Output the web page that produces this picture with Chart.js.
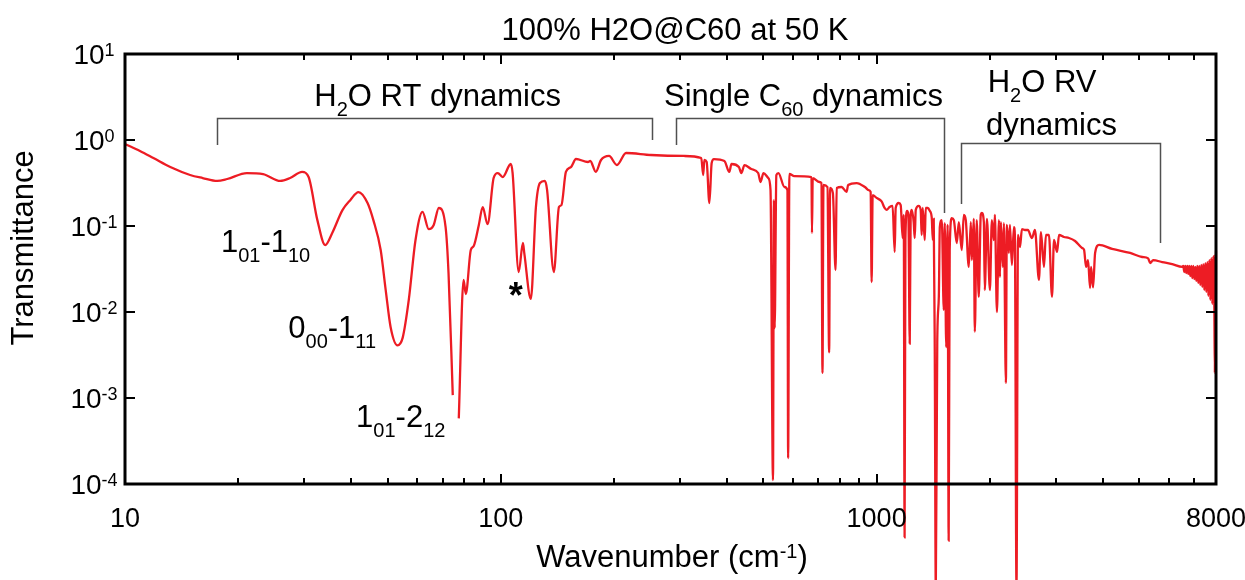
<!DOCTYPE html>
<html>
<head>
<meta charset="utf-8">
<script src="https://cdn.jsdelivr.net/npm/chart.js@4.4.1/dist/chart.umd.min.js"></script>
<style>
  html, body { margin: 0; padding: 0; background: #fff; }
  #wrap { width: 1245px; height: 580px; position: relative; }
</style>
</head>
<body>
<div id="wrap"><canvas id="c" width="1245" height="580"></canvas></div>
<script>
// Far-IR to near-IR transmittance spectrum of 100% H2O@C60 at 50 K
const wavenumber = [
  10, 10.96, 11.9, 13.2, 14.9, 16.1, 17.6, 18.7, 21.1, 23.3, 25.9, 27.5, 29.6, 30.8,
  32.5, 34.1, 35.6, 37.9, 39.8, 41.8, 44.2, 45.8, 47.9, 49.4, 50.9, 53.1, 54.8, 56.9,
  59.3, 61.9, 64.3, 66.3, 68.4, 71.3, 72.6, 74.5, 76, 77.3, 79.6, 80.7, 83.2, 84.7,
  87.4, 89.5, 92.2, 95.7, 98.2, 101.2, 106.3, 107.5, 111.6, 114.5, 115.5, 120.2, 124,
  127.1, 131, 132.8, 138.4, 142.8, 145, 149, 153.7, 158.5, 170.6, 173, 179, 184.8,
  194.1, 203.7, 215.4, 251, 307.6, 341.5, 345.6, 348, 353, 358.9, 364, 369, 393.5,
  405.5, 411, 430, 436.5, 445, 464, 484, 491, 500, 515, 522, 530, 532.9, 535.5, 541,
  548, 568.5, 579, 581.5, 586, 604, 671, 673, 676, 704.7, 713, 717.8, 722, 740, 747.6,
  752, 765, 777.5, 783, 806.6, 832, 840, 885, 931, 952, 964, 970, 976, 1000, 1031,
  1050, 1063, 1083, 1103, 1117, 1124, 1145, 1159, 1173, 1181, 1187, 1193, 1205, 1215,
  1225, 1232, 1240, 1255, 1263, 1271, 1294, 1310, 1318, 1326, 1343, 1351, 1368, 1385,
  1402, 1411, 1419, 1428, 1437, 1450, 1464, 1473, 1491, 1509, 1518, 1532, 1545, 1555,
  1565, 1585, 1605, 1634, 1655, 1685, 1706, 1727, 1759, 1781, 1792, 1814, 1825, 1847,
  1870, 1893, 1905, 1929, 1940, 1966, 2002, 2026, 2051, 2064, 2090, 2116, 2129, 2141,
  2167, 2181, 2208, 2221, 2249, 2263, 2291, 2319, 2333, 2356, 2378, 2407, 2436, 2481,
  2527, 2590, 2638, 2704, 2737, 2788, 2822, 2875, 2929, 2965, 3021, 3058, 3152, 3250,
  3373, 3521, 3565, 3609, 3653, 3698, 3721, 3767, 3814, 3909, 4233, 4727, 5089, 5279,
  5344, 5445, 5754, 6119, 6506, 6546, 6587, 6627, 6668, 6709, 6750, 6792, 6834, 6876,
  6918, 6961, 7004, 7047, 7090, 7134, 7178, 7222, 7267, 7311, 7356, 7401, 7447, 7493,
  7539, 7586, 7633, 7680, 7727, 7774, 7822, 7870, 7919, 7944, 7968, 7993, 8000
];
const transmittance = [
  0.90, 0.745, 0.617, 0.485, 0.392, 0.361, 0.334, 0.352, 0.413, 0.402, 0.334, 0.361, 0.425, 0.371,
  0.117, 0.060, 0.083, 0.153, 0.201, 0.248, 0.185, 0.117, 0.0526, 0.018, 0.0067, 0.0041, 0.0050, 0.0138,
  0.0687, 0.146, 0.092, 0.103, 0.162, 0.097, 0.028, 0.00108, null, 0.00058, 0.0236, 0.0162, 0.0526, 0.0585,
  0.103, 0.166, 0.105, 0.361, 0.413, 0.371, 0.526, 0.413, 0.0292, 0.0634, 0.048, 0.0142, 0.166,
  0.316, 0.334, 0.262, 0.0292, 0.166, 0.175, 0.425, 0.485, 0.601, 0.555, 0.57, 0.425, 0.585,
  0.652, 0.512, 0.706, 0.669, 0.652, 0.617, 0.392, 0.585, 0.555, 0.185, 0.54, 0.60, 0.570,
  0.425, 0.526, 0.485, 0.413, 0.51, 0.46, 0.413, 0.325, 0.413, 0.361, 0.262, 0.000111, 0.2, 0.0065, 0.39,
  0.413, 0.284, 0.262, 0.0002, 0.403, 0.381, 0.371, 0.083, 0.361, 0.325, 0.316, 0.00196, 0.30, 0.284, 0.0034,
  0.277, 0.241, 0.0308, 0.277, 0.284, 0.249, 0.30, 0.316, 0.284, 0.262, 0.249, 0.0223, 0.229, 0.212, 0.193,
  0.162, 0.154, 0.166, 0.171, 0.050, 0.162, 0.185, 0.175, 0.0724, 0.135, 0.000024, 0.0687, 0.15, 0.135,
  0.0043, 0.135, 0.154, 0.111, 0.0724, 0.154, 0.171, 0.154, 0.0786, 0.162, 0.0687, 0.162, 0.162, 0.150,
  0.124, 0.0687, 0.121, 0.00362, 0.000006, 0.0045, 0.0150, 0.097, 0.117, 0.01055, 0.108, 0.0039, 0.103, 0.000022,
  0.0526, 0.123, 0.117, 0.0634, 0.111, 0.0526, 0.135, 0.117, 0.0334, 0.111, 0.0402, 0.121, 0.0059, 0.117,
  0.0150, 0.135, 0.142, 0.111, 0.018, 0.121, 0.018, 0.117, 0.0687, 0.135, 0.0100, 0.117, 0.0255, 0.111,
  0.0334, 0.108, 0.0015, 0.103, 0.0485, 0.103, 0.0352, 0.097, 0.0786, 0.000006, 0.0786, 0.057, 0.092, 0.0898,
  0.0898, 0.0725, 0.0898, 0.0236, 0.085, 0.0334, 0.0786, 0.0786, 0.0150, 0.0687, 0.050, 0.0786, 0.0745, 0.0725,
  0.0669, 0.0555, 0.0526, 0.0334, 0.0402, 0.019, 0.0334, 0.0193, 0.0486, 0.0603, 0.0541, 0.0486, 0.0436, 0.042,
  0.0371, 0.0402, 0.038, 0.036, 0.0334, 0.0343, 0.0292, 0.0343, 0.0284, 0.0343, 0.0277, 0.0343, 0.0262, 0.0343,
  0.0248, 0.0343, 0.0242, 0.0334, 0.0230, 0.0343, 0.0218, 0.0343, 0.0206, 0.0352, 0.0195, 0.0361, 0.018, 0.0371,
  0.0171, 0.038, 0.0154, 0.0402, 0.0138, 0.0424, 0.0124, 0.0446, 0.0108, 0.00196, 0.0471, 0.0117, 0.052
];

// Axis ticks
const xMajorTicks = [10, 100, 1000];
const xMinorTicks = [20, 30, 40, 50, 60, 70, 80, 90, 200, 300, 400, 500, 600, 700, 800, 900,
                     2000, 3000, 4000, 5000, 6000, 7000];
const xTickValues = [10, 100, 1000, 8000];
const xTickLabels = ['10', '100', '1000', '8000'];
const yExponents = [1, 0, -1, -2, -3, -4];

// Region brackets: [from, to] in cm-1, bar level and leg ends in transmittance
const bracketFrom = [17.6, 293, 1675];
const bracketTo = [252.7, 1509, 5685];
const bracketLevel = [1.80, 1.80, 0.923];
const bracketLeftEnd = [0.875, 0.875, 0.180];
const bracketRightEnd = [1.0, 0.142, 0.0634];

const FONT = "'Liberation Sans', Arial, Helvetica, sans-serif";

// parts: [text, mode] with mode 0 = normal, 1 = subscript, 2 = superscript
function drawRich(ctx, parts, x, y, align, F, f) {
  const fontFor = m => (m === 0 ? F : f) + 'px ' + FONT;
  let w = 0;
  for (const [t, m] of parts) { ctx.font = fontFor(m); w += ctx.measureText(t).width; }
  let cx = align === 'center' ? x - w / 2 : (align === 'right' ? x - w : x);
  ctx.textAlign = 'left';
  ctx.textBaseline = 'alphabetic';
  for (const [t, m] of parts) {
    ctx.font = fontFor(m);
    const dy = m === 1 ? 0.33 * F : (m === 2 ? -0.3 * F : 0);
    ctx.fillText(t, cx, y + dy);
    cx += ctx.measureText(t).width;
  }
}

// Peak and region labels, anchored in data coordinates (cm-1, transmittance)
const peakLabels = [
  { parts: [['1', 0], ['01', 1], ['-1', 0], ['10', 1]], at: [18.0, 0.0499], align: 'left' },
  { parts: [['0', 0], ['00', 1], ['-1', 0], ['11', 1]], at: [27.2, 0.00499], align: 'left' },
  { parts: [['1', 0], ['01', 1], ['-2', 0], ['12', 1]], at: [41.2, 0.00046], align: 'left' },
  { parts: [['H', 0], ['2', 1], ['O RT dynamics', 0]], at: [67.9, 2.49], align: 'center' },
  { parts: [['Single C', 0], ['60', 1], [' dynamics', 0]], at: [639, 2.49], align: 'center' },
  { parts: [['H', 0], ['2', 1], ['O RV', 0]], at: [1975, 3.61], align: 'left' },
  { parts: [['dynamics', 0]], at: [1955, 1.143], align: 'left' }
];

const decorations = {
  id: 'decorations',
  afterDatasetsDraw(chart) {
    const { ctx, chartArea: a, scales: { x, y } } = chart;
    ctx.save();

    // brackets
    ctx.strokeStyle = '#505050';
    ctx.lineWidth = 1.5;
    for (let i = 0; i < bracketFrom.length; i++) {
      const x0 = Math.round(x.getPixelForValue(bracketFrom[i])) + 0.5;
      const x1 = Math.round(x.getPixelForValue(bracketTo[i])) + 0.5;
      const yb = Math.round(y.getPixelForValue(bracketLevel[i])) + 0.5;
      ctx.beginPath();
      ctx.moveTo(x0, y.getPixelForValue(bracketLeftEnd[i]));
      ctx.lineTo(x0, yb);
      ctx.lineTo(x1, yb);
      ctx.lineTo(x1, y.getPixelForValue(bracketRightEnd[i]));
      ctx.stroke();
    }

    // ticks (inward, on all four sides)
    ctx.strokeStyle = '#000';
    ctx.lineWidth = 2;
    ctx.beginPath();
    for (const v of xMajorTicks) {
      const px = Math.round(x.getPixelForValue(v));
      ctx.moveTo(px, a.bottom); ctx.lineTo(px, a.bottom - 10);
      ctx.moveTo(px, a.top); ctx.lineTo(px, a.top + 10);
    }
    for (const v of xMinorTicks) {
      const px = Math.round(x.getPixelForValue(v));
      ctx.moveTo(px, a.bottom); ctx.lineTo(px, a.bottom - 6);
      ctx.moveTo(px, a.top); ctx.lineTo(px, a.top + 6);
    }
    for (const e of yExponents) {
      const py = Math.round(y.getPixelForValue(Math.pow(10, e)));
      ctx.moveTo(a.left, py); ctx.lineTo(a.left + 10, py);
      ctx.moveTo(a.right, py); ctx.lineTo(a.right - 10, py);
    }
    ctx.stroke();

    // frame
    ctx.lineWidth = 3;
    ctx.strokeRect(a.left, a.top, a.right - a.left, a.bottom - a.top);

    ctx.fillStyle = '#000';
    // x tick labels
    ctx.font = '27px ' + FONT;
    ctx.textAlign = 'center';
    ctx.textBaseline = 'alphabetic';
    xTickValues.forEach((v, i) => {
      ctx.fillText(xTickLabels[i], x.getPixelForValue(v), a.bottom + 43);
    });
    // y tick labels 10^n
    for (const e of yExponents) {
      const py = y.getPixelForValue(Math.pow(10, e));
      drawRich(ctx, [['10', 0], [String(e), 2]], a.left - 31, py + 10, 'center', 28, 18);
    }

    // title and axis titles
    drawRich(ctx, [['100% H2O@C60 at 50 K', 0]], 675, 40, 'center', 31, 20);
    drawRich(ctx, [['Wavenumber (cm', 0], ['-1', 2], [')', 0]], 672, 567, 'center', 31, 20);
    ctx.save();
    ctx.translate(33, 248);
    ctx.rotate(-Math.PI / 2);
    drawRich(ctx, [['Transmittance', 0]], 0, 0, 'center', 31, 20);
    ctx.restore();

    // peak and region labels
    for (const lab of peakLabels) {
      drawRich(ctx, lab.parts, x.getPixelForValue(lab.at[0]), y.getPixelForValue(lab.at[1]), lab.align, 31, 20);
    }
    // impurity marker
    ctx.font = 'bold 36px ' + FONT;
    ctx.textAlign = 'center';
    ctx.textBaseline = 'alphabetic';
    ctx.fillText('*', x.getPixelForValue(109.6), y.getPixelForValue(0.019) + 20);

    ctx.restore();
  }
};

new Chart(document.getElementById('c'), {
  type: 'line',
  data: {
    datasets: [{
      data: wavenumber.map((w, i) => ({ x: w, y: transmittance[i] })),
      borderColor: '#ED1C24',
      borderWidth: 2.3,
      pointRadius: 0,
      cubicInterpolationMode: 'monotone',
      spanGaps: false,
      clip: false
    }]
  },
  options: {
    responsive: false,
    animation: false,
    devicePixelRatio: 1,
    layout: { padding: { left: 125, right: 29, top: 54, bottom: 96 } },
    plugins: { legend: { display: false }, title: { display: false }, tooltip: { enabled: false } },
    scales: {
      x: {
        type: 'logarithmic', min: 10, max: 8000,
        grid: { display: false }, border: { display: false },
        ticks: { display: false },
        afterFit: s => { s.height = 0; }
      },
      y: {
        type: 'logarithmic', min: 1e-4, max: 10,
        grid: { display: false }, border: { display: false },
        ticks: { display: false },
        afterFit: s => { s.width = 0; }
      }
    }
  },
  plugins: [decorations]
});
</script>
</body>
</html>
